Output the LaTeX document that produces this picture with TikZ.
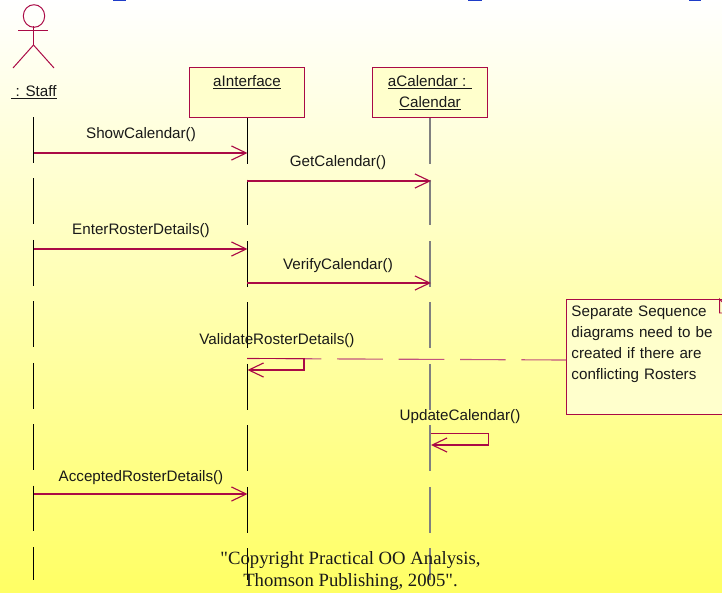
\documentclass[tikz,border=0pt]{standalone}
\usepackage{fontspec}
\setmainfont{Liberation Sans}
\newfontfamily\serifcap{Liberation Serif}
\usetikzlibrary{positioning,arrows.meta}
\definecolor{umlred}{RGB}{170,10,70}
\definecolor{boxyellow}{RGB}{255,255,204}
\definecolor{bgyellow}{RGB}{255,255,100}
\definecolor{bgmiddle}{RGB}{255,255,196}
\definecolor{titleblue}{RGB}{30,60,200}
\tikzset{
    objbox/.style={draw=umlred,fill=boxyellow,line width=0.8pt,anchor=north,minimum width=114.5*0.711pt,minimum height=50.5*0.711pt},
    lifeline/.style={line width=0.6pt,dash pattern=on 32.5pt off 11.2pt},
    msg/.style={draw=umlred,line width=0.8pt,-{Straight Barb[length=10.5pt,width=10pt]}},
    msglabel/.style={inner sep=0pt,text=black!90,font=\fontsize{10.8}{13}\selectfont},
    noteline/.style={draw=umlred!70,line width=0.8pt,dash pattern=on 32.5pt off 11.2pt,dash phase=23.3pt},
}
\begin{document}
\begin{tikzpicture}[x=0.025cm,y=-0.025cm]
    \useasboundingbox (0,0) rectangle (722,592);
    \clip (0,0) rectangle (722,592);
    % Background
    \shade[top color=white,middle color=bgmiddle,bottom color=bgyellow] (0,0) rectangle (722,592);
    \fill[titleblue] (113,-2) rectangle (126,1.3);
    \fill[titleblue] (468,-2) rectangle (482,1.3);
    \fill[titleblue] (689,-2) rectangle (701,1.3);

    % Actor
    \draw[umlred,line width=0.7pt] (34,16) ellipse (10.7 and 11.3);
    \draw[umlred,line width=0.7pt] (18,30) -- (48,30);
    \draw[umlred,line width=0.7pt] (33.5,26) -- (33.5,45) -- (13,68);
    \draw[umlred,line width=0.7pt] (33.5,45) -- (54,68);
    \node[msglabel] (staff) at (34,92) {\underline{\ : Staff}};

    % Objects
    \node[objbox] (iface) at (247,66.5) {};
    \node[msglabel] (ifacename) at (247,82) {\underline{aInterface}};
    \node[objbox] (cal) at (430,66.5) {};
    \node[msglabel] (calname) at (430,82) {\underline{aCalendar : }};
    \node[msglabel] (caltype) at (430,103) {\underline{Calendar}};

    % Lifelines
    \coordinate (staffTop) at (33.5,117);
    \coordinate (staffEnd) at (33.5,580);
    \coordinate (ifaceEnd) at (247,580);
    \coordinate (calEnd) at (430,580);
    \draw[lifeline] (staffTop) -- (staffEnd);
    \draw[lifeline] (iface.south) -- (ifaceEnd);
    \draw[lifeline,black!50,line width=1.1pt] (cal.south) -- (calEnd);

    % Note
    \node[draw=umlred,fill=boxyellow,line width=0.8pt,anchor=north west,minimum height=115.6*0.711pt,
          text width=157*0.711pt,inner xsep=3.5pt,inner ysep=3pt,align=left,text=black!90,font=\fontsize{10.8}{15}\selectfont] (note) at (566,298.7)
          {Separate Sequence\\diagrams need to be\\created if there are\\conflicting Rosters\\[5pt]\mbox{}};
    \coordinate (foldA) at (719.5,299);
    \coordinate (foldB) at (719.5,313);
    \coordinate (foldC) at (733,313);
    \coordinate (noteDock) at (566,360);
    \draw[umlred,line width=0.7pt,fill=boxyellow] (foldA) -- (foldB) -- (foldC) -- cycle;

    % Messages
    \coordinate (showA) at (33.5,153);
    \coordinate (showB) at (247.5,153);
    \coordinate (getA) at (247,181);
    \coordinate (getB) at (431,181);
    \coordinate (enterA) at (33.5,249);
    \coordinate (enterB) at (247.5,249);
    \coordinate (verifyA) at (247,283);
    \coordinate (verifyB) at (431,283);
    \coordinate (acceptA) at (33.5,494);
    \coordinate (acceptB) at (247.5,494);
    \draw[msg] (showA) -- (showB);
    \draw[msg] (getA) -- (getB);
    \draw[msg] (enterA) -- (enterB);
    \draw[msg] (verifyA) -- (verifyB);
    \draw[msg] (acceptA) -- (acceptB);

    % Self calls
    \coordinate (validA) at (247,358.5);
    \coordinate (validB) at (304,358.5);
    \coordinate (validC) at (304,370);
    \coordinate (validD) at (247.5,370);
    \coordinate (updA) at (431,433.7);
    \coordinate (updB) at (488.5,433.7);
    \coordinate (updC) at (488.5,445);
    \coordinate (updD) at (431,445);
    \draw[noteline] (validA) -- (noteDock);
    \draw[msg] (validA) -- (validB) -- (validC) -- (validD);
    \draw[msg] (updA) -- (updB) -- (updC) -- (updD);

    % Labels
    \node[msglabel] (showlabel) at (141,134.5) {ShowCalendar()};
    \node[msglabel] (getlabel) at (338,162.5) {GetCalendar()};
    \node[msglabel] (enterlabel) at (141,230.5) {EnterRosterDetails()};
    \node[msglabel] (verifylabel) at (338,265.5) {VerifyCalendar()};
    \node[msglabel] (validlabel) at (277,340.5) {ValidateRosterDetails()};
    \node[msglabel] (updlabel) at (460,416.5) {UpdateCalendar()};
    \node[msglabel] (acceptlabel) at (141,477.5) {AcceptedRosterDetails()};

    % Copyright
    \node[inner sep=0pt,text=black!90,align=center,font=\serifcap\fontsize{13.3}{15.6}\selectfont] (copy) at (350.5,571)
        {"Copyright Practical OO Analysis,\\Thomson Publishing, 2005".};
\end{tikzpicture}
\end{document}
